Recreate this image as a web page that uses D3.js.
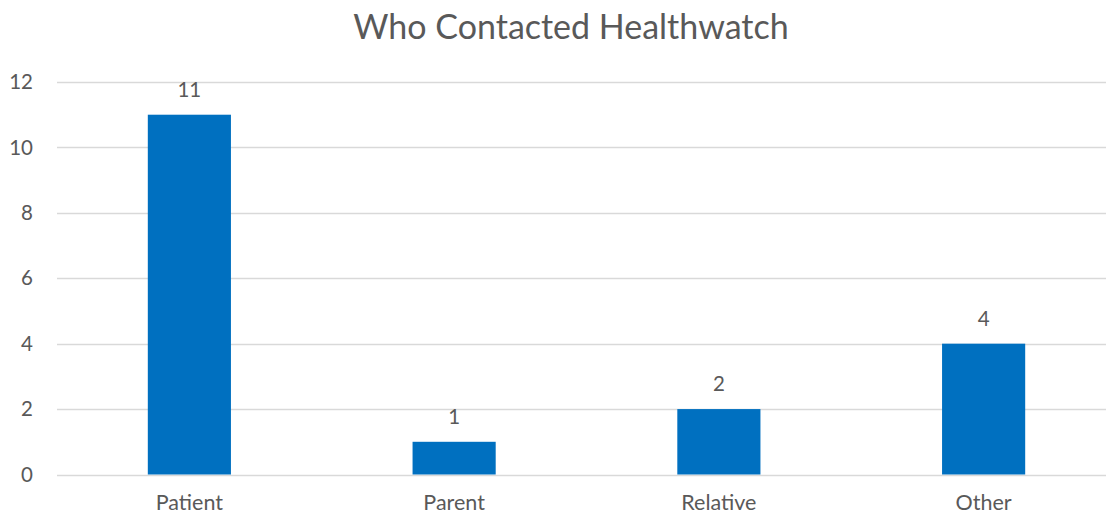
<!DOCTYPE html>
<html><head><meta charset="utf-8">
<script src="https://cdn.jsdelivr.net/npm/d3@7"></script>
<style>body{margin:0;background:#fff}svg{display:block}text{font-family:Lato,"Open Sans",sans-serif;fill:#595959}</style>
</head><body><svg id="c" width="1106" height="515"></svg>
<script>
const categories = ["Patient","Parent","Relative","Other"];
const values = [11,1,2,4];
const yTicks = [0,2,4,6,8,10,12];
const title = "Who Contacted Healthwatch";

const svg = d3.select("#c");
const x = d3.scaleBand().domain(categories).range([57,1116]).paddingInner(0.686).paddingOuter(0.343);
const y = d3.scaleLinear().domain([0,12]).range([474.5,82]);

svg.append("g").selectAll("line").data(yTicks).join("line")
  .attr("x1",57).attr("x2",1116).attr("y1",d=>Math.round(y(d))+0.5).attr("y2",d=>Math.round(y(d))+0.5)
  .attr("stroke","#d9d9d9").attr("stroke-width",1.5);

svg.append("g").selectAll("text").data(yTicks).join("text")
  .attr("x",33).attr("y",d=>y(d)).attr("dy","0.35em").attr("text-anchor","end")
  .style("font-size","20.5px").text(d=>d);

svg.append("g").selectAll("rect").data(values).join("rect")
  .attr("x",(d,i)=>x(categories[i])).attr("width",x.bandwidth())
  .attr("y",d=>y(d)).attr("height",d=>y(0)-y(d)).attr("fill","#0070c0");

svg.append("g").selectAll("text").data(values).join("text")
  .attr("x",(d,i)=>x(categories[i])+x.bandwidth()/2).attr("y",d=>y(d)-25).attr("dy","0.35em")
  .attr("text-anchor","middle").style("font-size","20.5px").text(d=>d);

svg.append("g").selectAll("text").data(categories).join("text")
  .attr("x",d=>x(d)+x.bandwidth()/2).attr("y",502).attr("dy","0.35em")
  .attr("text-anchor","middle").style("font-size","21.5px").text(d=>d);

svg.append("text").attr("x",571).attr("y",27).attr("dy","0.35em").attr("text-anchor","middle")
  .style("font-size","34px").text(title);
</script></body></html>
